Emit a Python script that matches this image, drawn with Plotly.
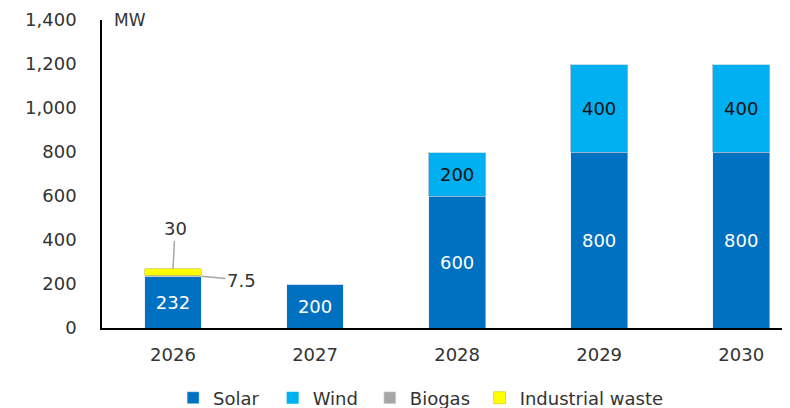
import plotly.graph_objects as go

years = ["2026", "2027", "2028", "2029", "2030"]
solar = [232, 200, 600, 800, 800]
wind = [0, 0, 200, 400, 400]
biogas = [7.5, 0, 0, 0, 0]
waste = [30, 0, 0, 0, 0]
y_ticks = [0, 200, 400, 600, 800, 1000, 1200, 1400]

FONT = "DejaVu Sans"
fig = go.Figure()

def lab(vals):
    return [f"{v:g}" if v >= 100 else "" for v in vals]

def edge(vals, w):
    return [w if v else 0 for v in vals]

fig.add_trace(go.Bar(name="Solar", x=years, y=solar, marker_color="#0070C0",
                     text=lab(solar), textposition="inside", insidetextanchor="middle",
                     textfont=dict(color="white", size=18, family=FONT),
                     legend="legend", showlegend=True))
fig.add_trace(go.Bar(name="Wind", x=years, y=wind, marker_color="#00B0F0",
                     marker_line=dict(color="#9FB7C7", width=edge(wind, 0.8)),
                     text=lab(wind), textposition="inside", insidetextanchor="middle",
                     textfont=dict(color="#111111", size=18, family=FONT),
                     legend="legend2", showlegend=True))
fig.add_trace(go.Bar(name="Biogas", x=years, y=biogas, marker_color="#A6A6A6",
                     legend="legend3", showlegend=True))
fig.add_trace(go.Bar(name="Industrial waste", x=years, y=waste, marker_color="#FFFF00",
                     marker_line=dict(color="#B8B800", width=edge(waste, 0.5)),
                     legend="legend4", showlegend=True))

fig.add_annotation(x=0, y=solar[0] + biogas[0] + waste[0], text="30", showarrow=True,
                   arrowhead=0, arrowwidth=1.5, arrowcolor="#A6A6A6", ax=2, ay=-40,
                   font=dict(size=18, color="#333333", family=FONT))
fig.add_annotation(x=0.2, y=solar[0] + biogas[0] / 2, text="7.5", showarrow=True,
                   arrowhead=0, arrowwidth=1.5, arrowcolor="#A6A6A6", ax=40, ay=4,
                   font=dict(size=18, color="#333333", family=FONT))
fig.add_annotation(x=0.015, xref="paper", y=1400, yref="y", text="MW", showarrow=False,
                   xanchor="left", yanchor="middle",
                   font=dict(size=17, color="#333333", family=FONT))

def leg(xpos):
    return dict(orientation="h", xref="container", x=xpos, xanchor="left",
                yref="container", y=0.044, yanchor="middle",
                font=dict(size=18, color="#333333"), itemwidth=30,
                bgcolor="rgba(0,0,0,0)")

fig.update_layout(
    barmode="stack", bargap=0.6, showlegend=True,
    width=790, height=408,
    margin=dict(l=94, r=0, t=12, b=88, autoexpand=False),
    paper_bgcolor="white", plot_bgcolor="white",
    font=dict(family=FONT, size=18, color="#333333"),
    legend=leg(0.209), legend2=leg(0.335), legend3=leg(0.458), legend4=leg(0.597),
    xaxis=dict(range=[-0.5, 4.40], showline=True, linecolor="black", linewidth=1.5,
               ticks="outside", ticklen=10, tickcolor="white",
               showgrid=False, tickfont=dict(size=18), automargin=False),
    yaxis=dict(range=[0, 1400], tickvals=y_ticks, tickformat=",", showline=True,
               linecolor="black", linewidth=1.5, showgrid=False, zeroline=False,
               ticks="outside", ticklen=20, tickcolor="white", tickfont=dict(size=18),
               automargin=False),
)

fig.write_html("out.html")
